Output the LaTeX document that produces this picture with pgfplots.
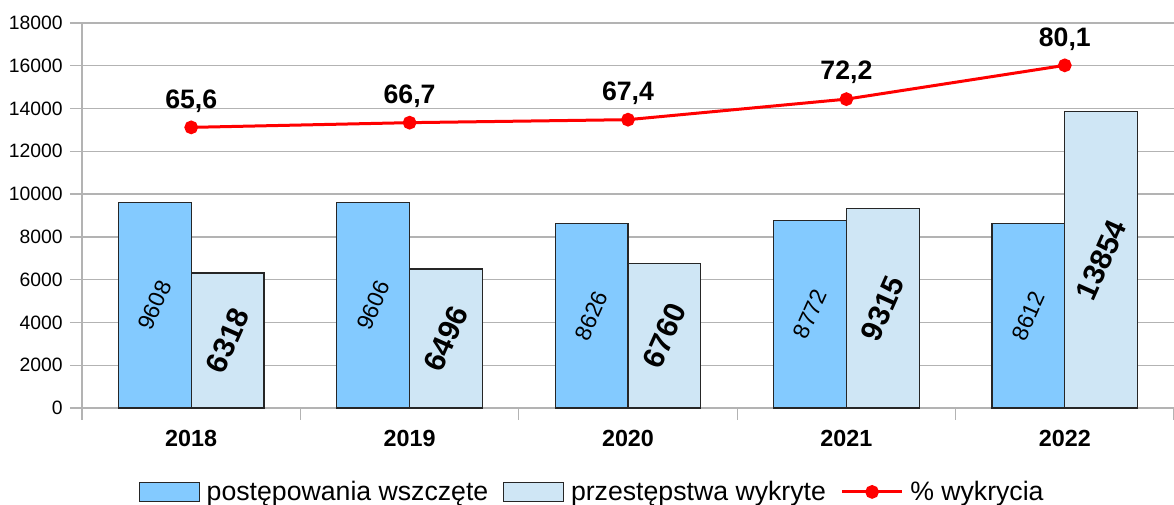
\documentclass[border=0pt]{standalone}
\usepackage{fontspec}
\setmainfont{Liberation Sans}
\usepackage{pgfplots}
\pgfplotsset{compat=1.18}
\definecolor{barA}{HTML}{83CAFF}
\definecolor{barB}{HTML}{CFE6F5}
\definecolor{gridc}{HTML}{B3B3B3}
\pgfplotsset{
  mybarlegend/.style={legend image code/.code={\draw[##1] (0pt,-7pt) rectangle (45pt,7pt);}},
  mylinelegend/.style={legend image code/.code={\draw[mark repeat=2,mark phase=2,##1] plot coordinates {(0pt,0pt)(22.5pt,0pt)(45pt,0pt)};}},
}
\begin{document}
\begin{tikzpicture}
\begin{axis}[
  at={(0,0)}, anchor=south west,
  scale only axis, width=819pt, height=288.75pt,
  xmin=-0.5, xmax=4.5, ymin=0, ymax=18000, enlargelimits=false,
  axis x line*=bottom, axis y line*=left,
  axis line style={gridc, line width=1pt, -},
  xtick={0,1,2,3,4}, xticklabels={2018,2019,2020,2021,2022},
  minor xtick={-0.5,0.5,1.5,2.5,3.5,4.5},
  major x tick style={draw=none},
  minor x tick style={gridc, line width=1pt},
  minor tick length=9pt,
  ytick={0,2000,...,18000},
  major y tick style={gridc, line width=1pt},
  major tick length=9pt,
  tick align=outside,
  ymajorgrids, grid style={gridc, line width=1pt},
  /pgf/number format/assume math mode=true,
  /pgf/number format/1000 sep={},
  scaled y ticks=false,
  yticklabel style={font=\fontsize{14.5}{16}\selectfont, xshift=-2pt},
  xticklabel style={font=\fontsize{17.5}{20}\selectfont\bfseries, yshift=-4.5pt},
  clip=false,
]
% blue bars: categories 2018..2022 at 0..4, drawn left of centre
\addplot[ybar, bar width=0.3333, bar shift=0pt, fill=barA, draw=black!85, line width=1pt,
  nodes near coords, visualization depends on={rawy\as\rawy},
  every node near coord/.append style={anchor=center, yshift={-0.0080208pt*\rawy}, rotate=66, font=\fontsize{17}{20}\selectfont, text=black},
] coordinates {(-0.16667,9608)(0.83333,9606)(1.83333,8626)(2.83333,8772)(3.83333,8612)};
\addplot[ybar, bar width=0.3333, bar shift=0pt, fill=barB, draw=black!85, line width=1pt,
  nodes near coords, visualization depends on={rawy\as\rawy},
  every node near coord/.append style={anchor=center, yshift={-0.0080208pt*\rawy}, rotate=66, font=\fontsize{22.5}{26}\selectfont\bfseries, text=black},
] coordinates {(0.16667,6318)(1.16667,6496)(2.16667,6760)(3.16667,9315)(4.16667,13854)};
\end{axis}
\begin{axis}[
  at={(0,0)}, anchor=south west,
  scale only axis, width=819pt, height=288.75pt,
  xmin=-0.5, xmax=4.5, ymin=0, ymax=90, enlargelimits=false,
  hide axis, clip=false,
  /pgf/number format/assume math mode=true,
  legend columns=3,
  legend cell align=left,
  legend style={draw=none, fill=none, at={(0.4675,-0.218)}, anchor=center,
    font=\fontsize{20}{23}\selectfont,
    /tikz/every odd column/.append style={column sep=3pt},
    /tikz/every even column/.append style={column sep=9pt}},
]
\addlegendimage{mybarlegend, fill=barA, draw=black!85, line width=1pt}
\addlegendentry{postępowania wszczęte}
\addlegendimage{mybarlegend, fill=barB, draw=black!85, line width=1pt}
\addlegendentry{przestępstwa wykryte}
\addplot[mylinelegend, red, line width=2.25pt, mark=*, mark size=4pt,
  nodes near coords,
  every node near coord/.append style={font=\fontsize{20}{24}\selectfont\bfseries, text=black, anchor=base, yshift=14.5pt},
  /pgf/number format/.cd, fixed, fixed zerofill, precision=1, use comma,
] coordinates {(0,65.6)(1,66.7)(2,67.4)(3,72.2)(4,80.1)};
\addlegendentry{\% wykrycia}
\end{axis}
\pgfresetboundingbox
\path[use as bounding box] (-61.5pt,-72.75pt) rectangle (819pt,306pt);
\end{tikzpicture}
\end{document}
